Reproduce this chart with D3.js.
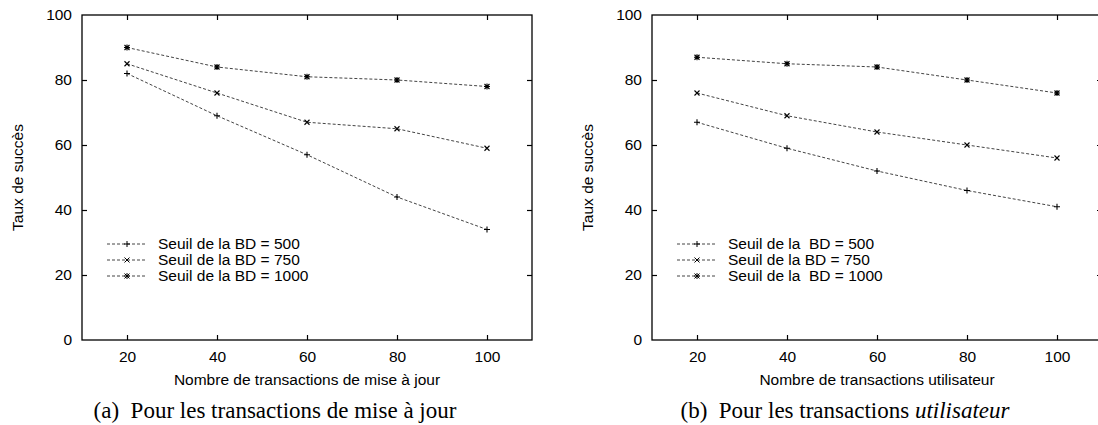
<!DOCTYPE html>
<meta charset="utf-8">
<script src="https://d3js.org/d3.v7.min.js"></script>
<style>
  body { margin: 0; background: #fff; }
  text { font-family: "Liberation Sans", Arial, sans-serif; fill: #000; }
  .caption { font-family: "Liberation Serif", "Times New Roman", serif; }
</style>
<div id="my_dataviz"></div>
<script>

// data
var xValues = [20, 40, 60, 80, 100];
var xTicks = [20, 40, 60, 80, 100];
var yTicks = [0, 20, 40, 60, 80, 100];

// (a) update transactions
var majSeuil500  = [82, 69, 57, 44, 34];
var majSeuil750  = [85, 76, 67, 65, 59];
var majSeuil1000 = [90, 84, 81, 80, 78];

// (b) user transactions
var usrSeuil500  = [67, 59, 52, 46, 41];
var usrSeuil750  = [76, 69, 64, 60, 56];
var usrSeuil1000 = [87, 85, 84, 80, 76];

var legendA = ["Seuil de la BD = 500", "Seuil de la BD = 750", "Seuil de la BD = 1000"];
var legendB = ["Seuil de la  BD = 500", "Seuil de la BD = 750", "Seuil de la  BD = 1000"];
var markers = ["plus", "cross", "star"];

var svg = d3.select("#my_dataviz")
  .append("svg")
    .attr("width", 1098)
    .attr("height", 425);

// small gnuplot-like point shapes
function markerPath(type) {
  var p = "M-3,0H3M0,-3V3";
  var c = "M-2.5,-2.5L2.5,2.5M-2.5,2.5L2.5,-2.5";
  if (type == "plus") return p;
  if (type == "cross") return c;
  return p + c;
}

function drawPanel(left, series, legendLabels, xTitle, captionParts) {
  var width = 450, height = 325, top = 15;

  var g = svg.append("g")
    .attr("transform", "translate(" + left + "," + top + ")");

  var x = d3.scaleLinear().domain([10, 110]).range([0, width]);
  var y = d3.scaleLinear().domain([0, 100]).range([height, 0]);

  // frame
  g.append("rect")
    .attr("width", width)
    .attr("height", height)
    .attr("fill", "none")
    .attr("stroke", "#000")
    .attr("stroke-width", 1.3);

  // axes, ticks pointing inwards like gnuplot
  var bottom = g.append("g")
    .attr("transform", "translate(0," + height + ")")
    .call(d3.axisBottom(x).tickValues(xTicks).tickSize(-5).tickPadding(11));
  var leftAx = g.append("g")
    .call(d3.axisLeft(y).tickValues(yTicks).tickSize(-5).tickPadding(10));
  var topAx = g.append("g")
    .call(d3.axisTop(x).tickValues(xTicks).tickSize(-5).tickFormat(""));
  var rightAx = g.append("g")
    .attr("transform", "translate(" + width + ",0)")
    .call(d3.axisRight(y).tickValues(yTicks).tickSize(-5).tickFormat(""));

  [bottom, leftAx, topAx, rightAx].forEach(function(a) {
    a.select(".domain").remove();
    a.selectAll("line").attr("stroke", "#000").attr("stroke-width", 1.2);
    a.selectAll("text")
      .style("font-family", "'Liberation Sans', Arial, sans-serif")
      .style("font-size", "15.5px")
      .attr("fill", "#000");
  });
  // drop the 0 / 100 left and right ticks that sit on the frame
  leftAx.selectAll(".tick line").filter(function(d) { return d == 0 || d == 100; }).remove();
  rightAx.selectAll(".tick line").filter(function(d) { return d == 0 || d == 100; }).remove();

  // axis titles
  g.append("text")
    .attr("x", width / 2)
    .attr("y", height + 45)
    .attr("text-anchor", "middle")
    .style("font-size", "15.5px")
    .text(xTitle);

  g.append("text")
    .attr("transform", "translate(" + (-59) + "," + (height / 2) + ") rotate(-90)")
    .attr("text-anchor", "middle")
    .style("font-size", "15.5px")
    .text("Taux de succès");

  // lines and points
  var line = d3.line()
    .x(function(d, i) { return x(xValues[i]); })
    .y(function(d) { return y(d); });

  series.forEach(function(s, k) {
    g.append("path")
      .datum(s)
      .attr("d", line)
      .attr("fill", "none")
      .attr("stroke", "#444")
      .attr("stroke-width", 1)
      .attr("stroke-dasharray", "3,2");

    g.selectAll(".pt" + k)
      .data(s)
      .enter()
      .append("path")
        .attr("transform", function(d, i) { return "translate(" + x(xValues[i]) + "," + y(d) + ")"; })
        .attr("d", markerPath(markers[k]))
        .attr("stroke", "#000")
        .attr("stroke-width", 1.1)
        .attr("fill", "none");
  });

  // legend
  var leg = g.append("g").attr("transform", "translate(25,229)");
  legendLabels.forEach(function(lab, k) {
    var row = leg.append("g").attr("transform", "translate(0," + (k * 16) + ")");
    row.append("line")
      .attr("x1", 0).attr("x2", 40)
      .attr("stroke", "#444")
      .attr("stroke-dasharray", "3,2");
    row.append("path")
      .attr("transform", "translate(20,0)")
      .attr("d", markerPath(markers[k]))
      .attr("stroke", "#000")
      .attr("fill", "none");
    row.append("text")
      .attr("x", 51)
      .attr("dy", "0.35em")
      .style("font-size", "15.5px")
      .style("white-space", "pre")
      .text(lab);
  });

  // sub-figure caption
  var cap = g.append("text")
    .attr("class", "caption")
    .attr("x", width / 2 - 32)
    .attr("y", height + 78)
    .attr("text-anchor", "middle")
    .style("font-size", "23px")
    .style("white-space", "pre");
  captionParts.forEach(function(p) {
    cap.append("tspan")
      .style("font-style", p[1] ? "italic" : "normal")
      .text(p[0]);
  });
}

drawPanel(82,
  [majSeuil500, majSeuil750, majSeuil1000],
  legendA,
  "Nombre de transactions de mise à jour",
  [["(a)  Pour les transactions de mise à jour", false]]);

drawPanel(652,
  [usrSeuil500, usrSeuil750, usrSeuil1000],
  legendB,
  "Nombre de transactions utilisateur",
  [["(b)  Pour les transactions ", false], ["utilisateur", true]]);

</script>
